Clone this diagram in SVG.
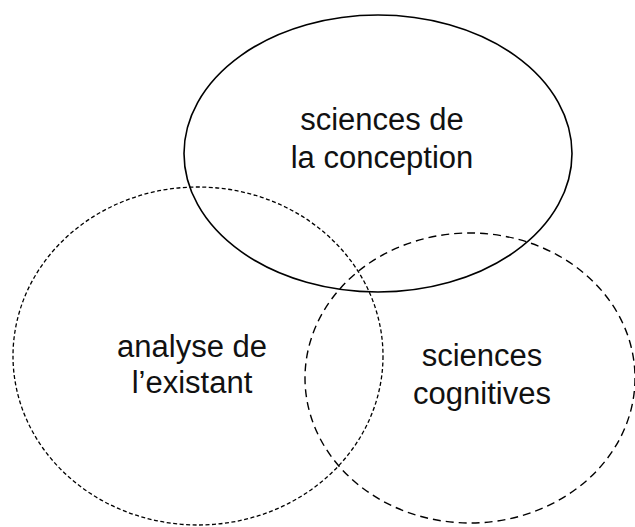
<svg xmlns="http://www.w3.org/2000/svg" width="635" height="527" viewBox="0 0 635 527">
<style>
.e{fill:none;stroke:#000}
.t{font-family:"Liberation Sans",Arial,sans-serif;font-size:31px;fill:#111;text-anchor:middle}
</style>
<rect width="635" height="527" fill="#fff"/>
<g id="conception">
<ellipse class="e" cx="378" cy="153.5" rx="194" ry="138.5" stroke-width="1.6"/>
<text class="t" x="382" y="130">sciences de</text>
<text class="t" x="382" y="168">la conception</text>
</g>
<g id="existant">
<ellipse class="e" cx="198" cy="356" rx="185" ry="169" stroke-width="1.3" stroke-dasharray="4 2.5"/>
<text class="t" x="192" y="357">analyse de</text>
<text class="t" x="192" y="393">l’existant</text>
</g>
<g id="cognitives">
<ellipse class="e" cx="470" cy="378" rx="165" ry="145" stroke-width="1.4" stroke-dasharray="8 5"/>
<text class="t" x="482" y="366">sciences</text>
<text class="t" x="482" y="404">cognitives</text>
</g>
</svg>
